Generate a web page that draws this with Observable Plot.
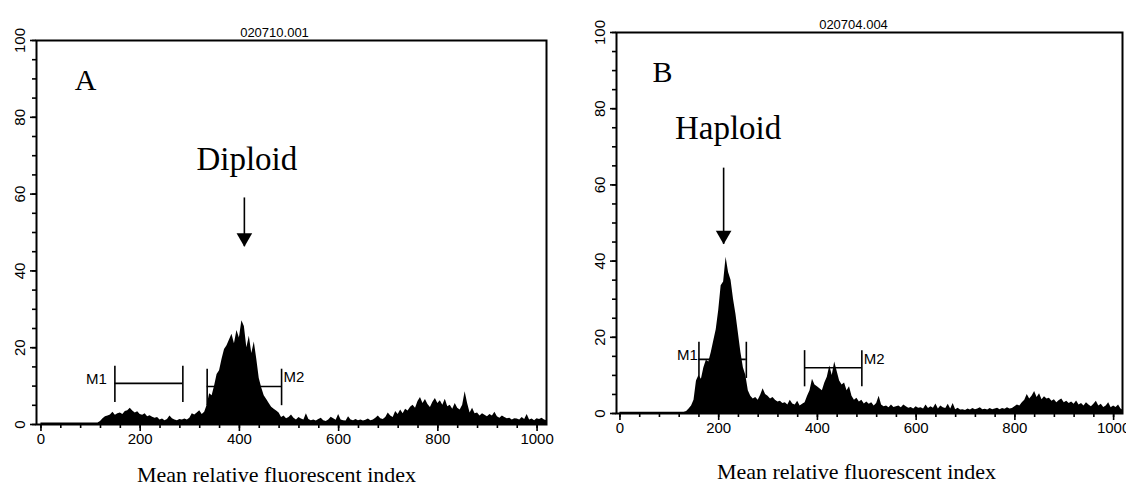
<!DOCTYPE html>
<html><head><meta charset="utf-8">
<script src="https://cdn.jsdelivr.net/npm/d3@7"></script>
<script src="https://cdn.jsdelivr.net/npm/@observablehq/plot@0.6"></script>
<style>
body{margin:0;background:#fff;}
#wrap{position:relative;width:1126px;height:490px;overflow:hidden;background:#fff;}
.panel{position:absolute;top:0;}
</style></head><body><div id="wrap"><div id="pa" class="panel" style="left:0"></div><div id="pb" class="panel" style="left:566px"></div></div>
<script>
// ---- data ----
const channelStep = 5; // channel width of each count below (x = index * step)
const countsA = [
0.4,0.4,0.4,0.4,0.4,0.4,0.4,0.4,0.4,0.4,0.4,0.4,0.4,0.4,0.4,0.4,0.4,0.4,0.4,0.4,
0.4,0.4,0.4,0.4,0.8,1.5,2.0,2.2,2.5,3.2,2.4,2.8,3.0,2.6,3.4,3.6,4.2,3.5,3.0,3.3,
2.6,2.4,2.8,2.0,2.3,1.9,1.6,1.8,1.2,1.4,1.0,1.3,2.2,1.5,1.2,1.0,1.3,1.2,1.4,1.2,
1.6,2.8,2.5,3.0,3.6,2.6,3.2,5.0,8.0,7.5,10.0,13.0,14.0,17.0,19.5,20.5,22.0,23.5,21.0,24.5,
22.5,27.0,25.5,20.0,23.0,18.5,21.5,17.0,12.0,9.5,7.5,6.5,5.5,4.5,4.0,3.5,3.0,1.8,2.2,1.5,
1.8,2.5,1.6,1.2,1.8,1.4,1.2,2.8,1.3,1.0,1.2,0.9,1.3,1.6,1.0,0.8,1.2,1.9,1.5,1.1,
2.6,1.2,1.0,0.9,2.0,1.2,1.0,1.3,1.0,1.2,0.9,1.1,1.4,1.0,1.2,1.6,2.2,1.5,1.3,1.8,
3.0,2.2,1.8,3.4,2.6,3.8,2.8,4.0,3.5,4.5,5.0,4.2,6.0,7.0,5.5,6.5,5.2,4.4,5.8,6.8,
5.5,6.2,5.0,6.6,4.6,5.0,4.0,5.5,4.2,3.8,5.0,8.5,5.5,3.0,4.2,2.8,3.0,2.2,2.8,2.4,
2.0,2.6,2.2,3.2,2.0,1.6,2.2,1.8,1.5,1.6,1.2,1.5,1.4,1.2,1.8,1.3,2.6,1.2,1.4,1.0,
1.5,1.3,1.6,1.2,1.0
];
const countsB = [
0.3,0.3,0.3,0.3,0.3,0.3,0.3,0.3,0.3,0.3,0.3,0.3,0.3,0.3,0.3,0.3,0.3,0.3,0.3,0.3,
0.3,0.3,0.3,0.3,0.3,0.3,0.3,0.5,1.2,2.0,3.5,8.5,10.0,9.0,12.0,14.0,13.5,16.0,19.0,22.0,
27.0,33.5,34.5,41.0,37.0,35.0,30.0,26.0,21.0,16.0,12.0,10.0,6.0,4.5,3.8,4.2,3.5,4.8,6.5,5.0,
4.5,3.8,4.2,3.5,3.0,3.2,2.6,2.8,2.2,3.5,2.5,2.2,3.2,2.0,2.4,2.8,4.5,6.0,9.0,7.5,
7.0,6.5,6.0,8.0,9.5,12.5,10.0,13.5,11.0,8.5,7.5,8.0,6.0,7.0,4.5,3.5,4.0,3.0,3.5,2.5,
3.0,2.4,2.8,2.0,2.6,4.5,2.2,1.8,2.0,1.5,2.2,1.6,1.8,2.0,1.5,2.2,1.8,1.4,1.6,1.2,
1.8,1.4,1.5,1.2,2.2,1.3,1.8,1.4,2.5,1.2,2.0,1.5,1.3,2.4,1.2,2.6,1.0,1.4,0.9,1.0,
0.8,1.2,0.9,1.3,1.0,1.2,1.5,1.0,1.1,0.9,1.3,1.0,1.2,1.4,1.0,1.3,1.1,1.5,1.2,1.3,
1.8,2.2,2.0,2.8,3.5,5.0,3.8,4.6,5.8,4.2,5.2,3.6,4.4,3.8,4.0,3.2,3.6,2.8,3.4,3.8,
2.8,3.2,2.6,3.0,2.4,3.3,2.2,2.6,2.0,2.8,2.2,1.8,2.4,3.2,2.0,2.4,1.6,2.0,2.8,1.5,
2.0,1.6,2.2,1.2,0.8
];
const xTicksMajor = [0, 200, 400, 600, 800, 1000];
const yTicksMajor = [0, 20, 40, 60, 80, 100];
const xTitle = "Mean relative fluorescent index";
const fileA = "020710.001", fileB = "020704.004";
const letterA = "A", letterB = "B";
const ploidyA = "Diploid", ploidyB = "Haploid";
const markersA = [{name:"M1", start:149, end:286, y:10.7, side:"left"}, {name:"M2", start:335, end:485, y:9.9, side:"right"}];
const markersB = [{name:"M1", start:160, end:256, y:14.2, side:"left"}, {name:"M2", start:374, end:490, y:12.0, side:"right"}];
const arrowA = {x:410, top:59, tip:46.3};
const arrowB = {x:210, top:64.4, tip:44.4};

const serif = "'Liberation Serif', 'Times New Roman', serif";

function makePanel(counts, o) {
  const data = counts.map((c, i) => ({x: i * channelStep, y: c}));
  const ends = o.markers.flatMap(m => [{x: m.start, y: m.y}, {x: m.end, y: m.y}]);
  const sw = 1.6;
  return Plot.plot({
    width: o.width, height: 490,
    marginLeft: o.ml, marginRight: o.mr, marginTop: o.mt, marginBottom: o.mb,
    x: {domain: o.xDomain, axis: null},
    y: {domain: [0, 100], axis: null},
    style: {fontFamily: "'Liberation Sans', Arial, sans-serif", fontSize: "14px", color: "#000", background: "transparent", overflow: "visible"},
    marks: [
      Plot.areaY(data, {x: "x", y: "y", fill: "#000", curve: "linear"}),
      Plot.axisX({ticks: d3.range(0, 1001, 40), tickSize: 4, tickFormat: () => "", strokeWidth: sw, label: null}),
      Plot.axisX({ticks: xTicksMajor, tickSize: 7, tickPadding: 2, tickFormat: d => String(d), strokeWidth: sw, fontSize: 15, label: null}),
      Plot.axisY({ticks: d3.range(0, 101, 5), tickSize: 4, tickFormat: () => "", strokeWidth: sw, label: null}),
      Plot.axisY({ticks: yTicksMajor, tickSize: 6, tickFormat: () => "", strokeWidth: sw, label: null}),
      Plot.text(yTicksMajor, {y: d => d, text: d => String(d), frameAnchor: "left", dx: -16, rotate: -90, textAnchor: "middle", lineAnchor: "middle", fontSize: 15}),
      Plot.frame({stroke: "#000", strokeWidth: 2}),
      Plot.ruleY(o.markers, {x1: "start", x2: "end", y: "y", stroke: "#000", strokeWidth: sw}),
      Plot.ruleX(ends, {x: "x", y1: d => d.y - 5, y2: d => d.y + 4.5, stroke: "#000", strokeWidth: sw}),
      Plot.text(o.markers.filter(m => m.side === "left"), {x: "start", y: "y", text: "name", textAnchor: "end", dx: o.m1dx, dy: -4, fontSize: 15}),
      Plot.text(o.markers.filter(m => m.side === "right"), {x: "end", y: "y", text: "name", textAnchor: "start", dx: 2, dy: -9, fontSize: 15}),
      Plot.ruleX([o.arrow], {x: "x", y1: "top", y2: "tip", stroke: "#000", strokeWidth: 1.6}),
      Plot.dot([o.arrow], {x: "x", y: "tip", dy: -9, symbol: "triangle", r: 5.8, fill: "#000", stroke: "none", rotate: 180}),
      Plot.text([o.file], {frameAnchor: "top", text: d => d, dx: o.titleDx, dy: -4, lineAnchor: "bottom", fontSize: 13}),
      Plot.text([o.letter], {x: o.letterX, y: 89.5, text: d => d, fontFamily: serif, fontSize: 30, lineAnchor: "middle"}),
      Plot.text([o.ploidy], {x: o.ploidyX, y: o.ploidyY, text: d => d, fontFamily: serif, fontSize: 33, lineAnchor: "middle"}),
      Plot.text([xTitle], {frameAnchor: "bottom", text: d => d, dx: o.capDx, dy: o.capDy, fontFamily: serif, fontSize: 22, lineAnchor: "middle"})
    ]
  });
}

document.getElementById("pa").append(makePanel(countsA, {
  width: 566, ml: 36, mr: 20, mt: 40, mb: 66, xDomain: [-9, 1019],
  markers: markersA, m1dx: -8, arrow: arrowA, file: fileA, titleDx: -17,
  letter: letterA, letterX: 90, ploidy: ploidyA, ploidyX: 415, ploidyY: 69,
  capDx: -15, capDy: 50
}));
document.getElementById("pb").append(makePanel(countsB, {
  width: 560, ml: 50, mr: 4, mt: 32, mb: 77, xDomain: [-7, 1018],
  markers: markersB, m1dx: -1, arrow: arrowB, file: fileB, titleDx: -16,
  letter: letterB, letterX: 86, ploidy: ploidyB, ploidyX: 219, ploidyY: 74.7,
  capDx: -13, capDy: 58
}));
</script></body></html>
